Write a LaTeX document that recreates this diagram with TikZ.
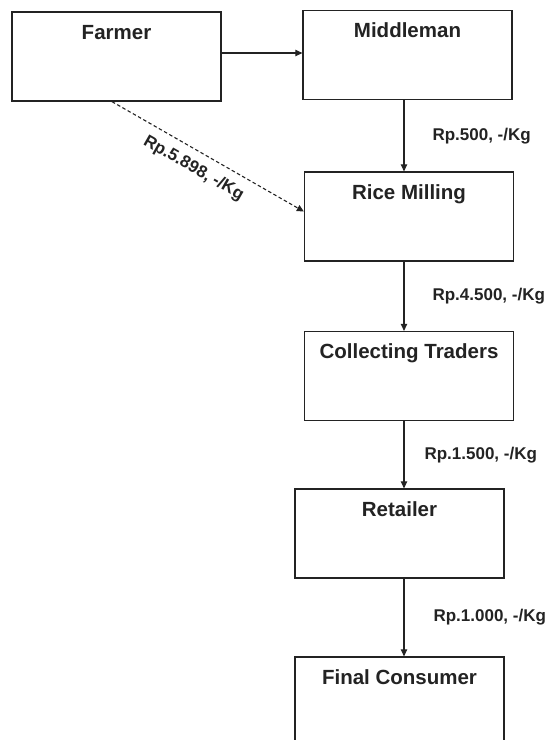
\documentclass[tikz,border=0pt]{standalone}
\usepackage{fontspec}
\setmainfont{Liberation Sans}
\usetikzlibrary{positioning,calc}
\usetikzlibrary{arrows.meta}
\definecolor{InkGray}{RGB}{35,35,35}
\tikzset{
  stage/.style={draw=InkGray,line width=1.3pt,fill=white,inner sep=0pt,
    minimum width=209pt,text height=27pt,text depth=62pt,
    font=\fontsize{20.5}{24}\selectfont\bfseries,text=InkGray},
  flow/.style={draw=InkGray,line width=1.1pt,-{Triangle[length=7pt,width=6.5pt]}},
  detour/.style={flow,dash pattern=on 3.5pt off 2.5pt},
  price/.style={font=\fontsize{17}{20}\selectfont\bfseries,text=InkGray,inner sep=0pt},
}

\begin{document}
\begin{tikzpicture}[x=1pt,y=-1pt]
\useasboundingbox (0,0) rectangle (552,740);
\clip (0,0) rectangle (552,740);
\coordinate (pfarm) at (116.5,56.5);
\coordinate (pmid) at (407.5,55);
\coordinate (price) at (409,216.5);
\coordinate (pcoll) at (409,376);
\coordinate (pret) at (399.5,533.5);
\coordinate (pcons) at (399.5,701.5);
\coordinate (spine) at (404,0);
\coordinate (row) at (0,53);
\node[stage] (farmer) at (pfarm) {Farmer};
\node[stage] (middle) at (pmid) {Middleman};
\node[stage] (rice) at (price) {Rice Milling};
\node[stage] (coll) at (pcoll) {Collecting Traders};
\node[stage] (ret) at (pret) {Retailer};
\node[stage] (cons) at (pcons) {Final Consumer};
\draw[flow] (farmer.east |- row) -- (middle.west |- row);
\draw[detour] ([xshift=-4.5pt]farmer.south) -- node[price,sloped,below=9pt,pos=0.47] (c0) {Rp.5.898, -/Kg} ([yshift=5pt]rice.west);
\draw[flow] (middle.south -| spine) -- node[price,anchor=west,xshift=28pt] (c1) {Rp.500, -/Kg} (rice.north -| spine);
\draw[flow] (rice.south -| spine) -- node[price,anchor=west,xshift=28pt] (c2) {Rp.4.500, -/Kg} (coll.north -| spine);
\draw[flow] (coll.south -| spine) -- node[price,anchor=west,xshift=20pt] (c3) {Rp.1.500, -/Kg} (ret.north -| spine);
\draw[flow] (ret.south -| spine) -- node[price,anchor=west,xshift=29pt] (c4) {Rp.1.000, -/Kg} (cons.north -| spine);
\end{tikzpicture}
\end{document}
